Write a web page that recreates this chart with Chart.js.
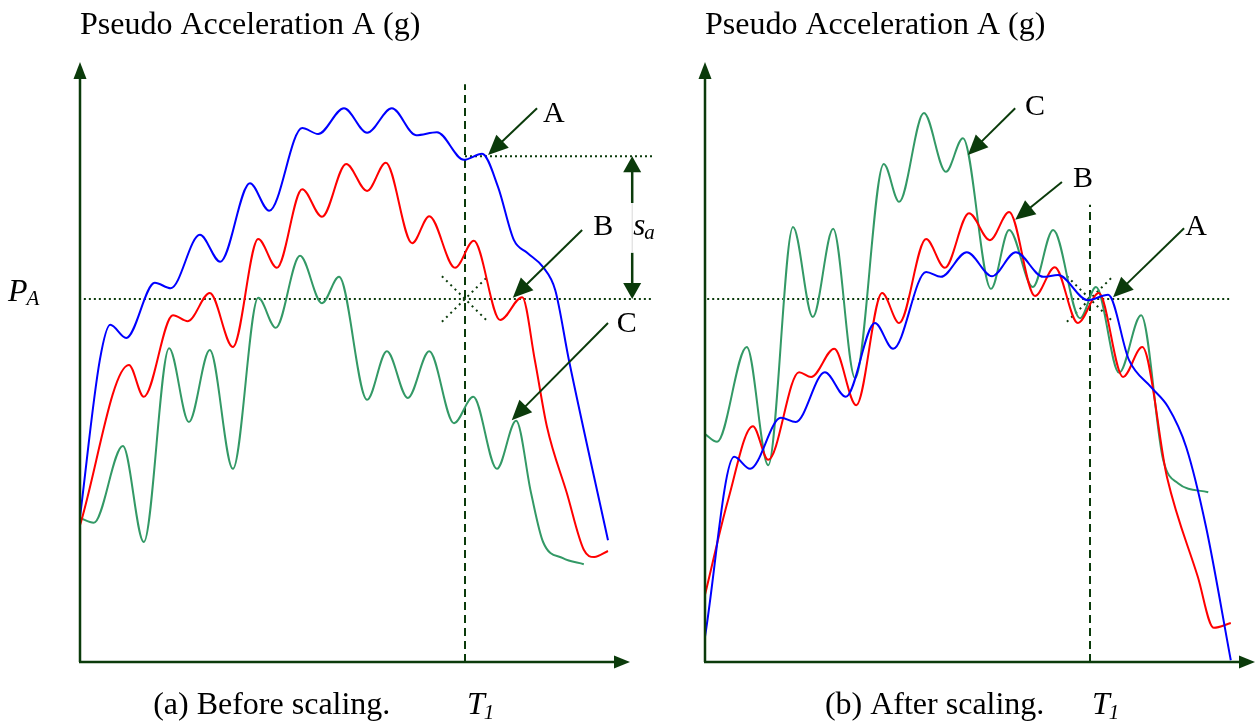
<!DOCTYPE html>
<html><head><meta charset="utf-8">
<script src="https://cdn.jsdelivr.net/npm/chart.js@4.4.1/dist/chart.umd.min.js"></script>
<style>
html,body{margin:0;padding:0;background:#fff;}
#wrap{position:relative;width:1256px;height:723px;overflow:hidden;background:#fff}
canvas{position:absolute;top:0}
</style>
</head><body>
<div id="wrap">
<canvas id="c1" width="660" height="723" style="left:0px"></canvas>
<canvas id="c2" width="596" height="723" style="left:660px"></canvas>
</div>
<script>
// ---------------- data (period T in arbitrary units 0..100, pseudo acceleration in arbitrary units 0..100)
const T1 = 70;        // period T1
const PA = 60.5;      // target pseudo acceleration P_A
const SA_T1 = 84.3;   // spectral value of record A at T1 before scaling

// (a) Before scaling
const beforeA_T  = [0, 3.6, 5.5, 8.4, 13.6, 16.5, 21.8, 25.5, 30.9, 34.4, 40.4, 43.3, 48.0, 52.2, 56.7, 61.1, 64.9, 69.8, 73.1, 76.0, 78.9, 81.3, 84.2, 86.4, 88.9, 96.0];
const beforeA_SA = [24.2, 50.3, 56.2, 54.0, 63.2, 62.3, 71.2, 66.7, 79.8, 75.2, 89.0, 88.0, 92.3, 88.2, 92.3, 87.8, 88.3, 83.7, 84.7, 79.2, 70.3, 68.2, 65.8, 62.0, 50.3, 20.3];
const beforeB_T  = [0, 8.9, 11.6, 16.9, 19.6, 23.6, 27.8, 32.4, 35.8, 40.4, 44.0, 48.4, 52.2, 55.6, 60.4, 63.5, 68.2, 71.6, 76.4, 80.4, 82.7, 84.9, 88.5, 91.6, 93.5, 96.0];
const beforeB_SA = [22.8, 49.5, 44.2, 57.8, 56.8, 61.5, 52.5, 70.5, 65.7, 78.8, 74.2, 83.0, 78.5, 83.2, 69.8, 74.3, 65.7, 70.2, 57.0, 60.8, 50.3, 39.2, 28.2, 18.7, 17.5, 18.5];
const beforeC_T  = [0, 2.5, 7.8, 11.6, 16.2, 19.8, 23.6, 27.8, 32.4, 35.6, 40.0, 44.0, 47.1, 52.2, 55.8, 59.6, 63.5, 68.0, 71.5, 75.8, 79.3, 82.0, 84.2, 87.8, 91.6];
const beforeC_SA = [24.0, 23.2, 36.0, 20.0, 52.3, 40.0, 52.0, 32.2, 60.7, 55.7, 67.7, 59.8, 64.2, 43.7, 51.8, 44.0, 51.8, 39.8, 44.2, 32.2, 40.2, 28.2, 20.0, 17.3, 16.3];

// (b) After scaling
const afterA_T  = [0, 5.3, 8.2, 13.8, 16.5, 21.8, 25.6, 30.9, 34.2, 40.2, 42.9, 47.6, 52.2, 56.5, 61.5, 64.2, 69.6, 73.3, 77.1, 81.1, 84.2, 87.5, 91.1, 95.6];
const afterA_SA = [4.2, 34.2, 32.2, 40.7, 40.0, 48.3, 44.2, 56.5, 52.2, 65.0, 64.2, 68.3, 64.3, 68.3, 64.2, 64.5, 60.3, 61.2, 50.3, 45.8, 42.5, 35.8, 22.5, 0.3];
const afterB_T  = [0, 4.2, 8.7, 11.5, 17.1, 19.3, 23.5, 27.5, 32.2, 35.3, 40.2, 43.6, 48.0, 51.8, 55.3, 60.0, 63.6, 67.8, 71.6, 76.0, 79.5, 84.0, 89.6, 92.5, 95.6];
const afterB_SA = [11.2, 27.0, 39.3, 33.7, 48.3, 47.5, 52.2, 42.8, 61.5, 56.5, 70.5, 65.7, 74.8, 70.3, 75.0, 61.0, 65.8, 56.5, 61.5, 47.5, 52.5, 30.8, 14.2, 5.7, 6.5];
const afterC_T  = [0, 2.2, 7.6, 11.5, 16.0, 19.6, 23.3, 27.3, 32.5, 35.3, 39.8, 43.8, 46.9, 52.0, 55.3, 59.6, 63.3, 68.2, 71.1, 75.3, 79.3, 83.3, 86.0, 91.5];
const afterC_SA = [38.0, 36.7, 52.5, 32.8, 72.5, 57.5, 72.2, 47.3, 83.0, 76.7, 91.5, 81.7, 87.3, 62.2, 72.0, 62.5, 72.0, 57.3, 62.5, 48.2, 57.8, 33.7, 29.8, 28.3];

const recordNames = ['A', 'B', 'C'];

// ---------------- styles / layout
const BLUE = '#0000ff', RED = '#ff0000', GREEN = '#339966', DARK = '#0b3b0b';
const SERIF = "'Liberation Serif', 'Times New Roman', serif";

const panels = [
  {
    canvas: 'c1', pad: {left: 80, right: 30, top: 62, bottom: 61},
    series: [[beforeA_T, beforeA_SA, BLUE], [beforeB_T, beforeB_SA, RED], [beforeC_T, beforeC_SA, GREEN]],
    caption: '(a) Before scaling.', captionX: 13.3,
    t1Top: 96.3, paLine: [0.7, 104], saLine: [70, 104],
    sa: {x: 100.4, gap: [68.2, 76.5], labelY: 71.2},
    showPA: true,
    labels: [{t: 'A', x: 84.2, y: 90.0}, {t: 'B', x: 93.3, y: 71.2}, {t: 'C', x: 97.6, y: 55.0}],
    arrows: [{f: [83.1, 92.3], to: [74.2, 84.5]}, {f: [91.3, 72.0], to: [78.7, 60.7]}, {f: [96.0, 56.5], to: [78.5, 40.3]}]
  },
  {
    canvas: 'c2', pad: {left: 45, right: 1, top: 62, bottom: 61},
    series: [[afterA_T, afterA_SA, BLUE], [afterB_T, afterB_SA, RED], [afterC_T, afterC_SA, GREEN]],
    caption: '(b) After scaling.', captionX: 21.8,
    t1Top: 76.2, paLine: [0.4, 95.3], saLine: null, sa: null, showPA: false,
    labels: [{t: 'C', x: 58.2, y: 91.2}, {t: 'B', x: 66.9, y: 79.2}, {t: 'A', x: 87.3, y: 71.2}],
    arrows: [{f: [56.4, 92.3], to: [47.8, 84.5]}, {f: [64.9, 80.0], to: [56.4, 73.7]}, {f: [87.1, 72.3], to: [74.2, 60.8]}]
  }
];

function seg(ctx, x1, y1, x2, y2) { ctx.beginPath(); ctx.moveTo(x1, y1); ctx.lineTo(x2, y2); ctx.stroke(); }
function head(ctx, x1, y1, x2, y2, len, hw) {
  const a = Math.atan2(y2 - y1, x2 - x1);
  const bx = x2 - len * Math.cos(a), by = y2 - len * Math.sin(a);
  ctx.beginPath();
  ctx.moveTo(x2, y2);
  ctx.lineTo(bx + hw * Math.sin(a), by - hw * Math.cos(a));
  ctx.lineTo(bx - hw * Math.sin(a), by + hw * Math.cos(a));
  ctx.closePath(); ctx.fill();
  return [bx, by];
}
function arrow(ctx, x1, y1, x2, y2, len, hw) {
  const a = Math.atan2(y2 - y1, x2 - x1);
  seg(ctx, x1, y1, x2 - (len - 2) * Math.cos(a), y2 - (len - 2) * Math.sin(a));
  head(ctx, x1, y1, x2, y2, len, hw);
}
function subText(ctx, main, sub, x, y, size, subSize, dy, italic) {
  const st = italic ? 'italic ' : '';
  ctx.font = st + size + 'px ' + SERIF;
  ctx.fillText(main, x, y);
  const w = ctx.measureText(main).width;
  ctx.font = st + subSize + 'px ' + SERIF;
  ctx.fillText(sub, x + w - (italic ? 1 : 0), y + dy);
}

function makePlugin(p) {
  return {
    id: 'decor',
    beforeDatasetsDraw(chart) {
      const ctx = chart.ctx, X = v => chart.scales.x.getPixelForValue(v), Y = v => chart.scales.y.getPixelForValue(v);
      ctx.save();
      ctx.strokeStyle = DARK; ctx.lineWidth = 2;
      ctx.setLineDash([8, 5]);
      seg(ctx, X(T1), Y(0), X(T1), Y(p.t1Top));
      ctx.setLineDash([2, 3]);
      seg(ctx, X(p.paLine[0]), Y(PA), X(p.paLine[1]), Y(PA));
      if (p.saLine) seg(ctx, X(p.saLine[0]), Y(SA_T1), X(p.saLine[1]), Y(SA_T1));
      ctx.setLineDash([2, 4]);
      seg(ctx, X(T1 - 4.2), Y(PA + 3.8), X(T1 + 4.2), Y(PA - 3.8));
      seg(ctx, X(T1 - 4.2), Y(PA - 3.8), X(T1 + 4.2), Y(PA + 3.8));
      ctx.restore();
    },
    afterDatasetsDraw(chart) {
      const ctx = chart.ctx, X = v => chart.scales.x.getPixelForValue(v), Y = v => chart.scales.y.getPixelForValue(v);
      ctx.save();
      ctx.setLineDash([]);
      ctx.strokeStyle = DARK; ctx.fillStyle = DARK;
      // axes with arrow heads
      ctx.lineWidth = 2.5;
      seg(ctx, X(0), Y(0), X(0), Y(100) + 14);
      head(ctx, X(0), Y(0), X(0), Y(100), 17, 6.5);
      seg(ctx, X(0) - 1, Y(0), X(100) - 14, Y(0));
      head(ctx, X(0), Y(0), X(100), Y(0), 16, 6.5);
      // annotation arrows
      ctx.lineWidth = 2;
      p.arrows.forEach(a => arrow(ctx, X(a.f[0]), Y(a.f[1]), X(a.to[0]), Y(a.to[1]), 20, 9));
      // s_a dimension arrow
      if (p.sa) {
        const sx = X(p.sa.x);
        ctx.lineWidth = 2.5;
        seg(ctx, sx, Y(SA_T1) + 12, sx, Y(p.sa.gap[1]));
        seg(ctx, sx, Y(p.sa.gap[0]), sx, Y(PA) - 12);
        head(ctx, sx, Y(PA), sx, Y(SA_T1), 16, 9);
        head(ctx, sx, Y(SA_T1), sx, Y(PA), 16, 9);
        ctx.strokeStyle = '#d8d8d8'; ctx.lineWidth = 1;
        seg(ctx, sx, Y(p.sa.gap[1]), sx, Y(p.sa.gap[0]));
        ctx.fillStyle = '#000';
        subText(ctx, 's', 'a', sx + 1, Y(p.sa.labelY), 31, 21, 4, true);
      }
      // texts
      ctx.fillStyle = '#000';
      ctx.textBaseline = 'alphabetic';
      ctx.font = '32px ' + SERIF;
      ctx.fillText('Pseudo Acceleration A (g)', X(0), Y(104.7));
      ctx.fillText(p.caption, X(p.captionX), Y(-8.7));
      subText(ctx, 'T', '1', X(T1) + 2, Y(-8.7), 32, 21, 5, true);
      p.labels.forEach(l => { ctx.font = '30px ' + SERIF; ctx.fillText(l.t, X(l.x), Y(l.y)); });
      if (p.showPA) subText(ctx, 'P', 'A', X(-13.1), Y(60.2), 32, 21, 4, true);
      ctx.restore();
    }
  };
}

panels.forEach(p => {
  new Chart(document.getElementById(p.canvas), {
    type: 'line',
    data: {
      datasets: p.series.map((s, i) => ({
        label: recordNames[i],
        data: s[0].map((t, k) => ({x: t, y: s[1][k]})),
        borderColor: s[2], borderWidth: 2,
        pointRadius: 0, fill: false,
        cubicInterpolationMode: 'monotone',
        order: i
      }))
    },
    options: {
      responsive: false, animation: false, devicePixelRatio: 1,
      layout: {padding: p.pad},
      plugins: {legend: {display: false}, tooltip: {enabled: false}, title: {display: false}},
      scales: {
        x: {type: 'linear', min: 0, max: 100, display: false},
        y: {type: 'linear', min: 0, max: 100, display: false}
      }
    },
    plugins: [makePlugin(p)]
  });
});
</script>
</body></html>
